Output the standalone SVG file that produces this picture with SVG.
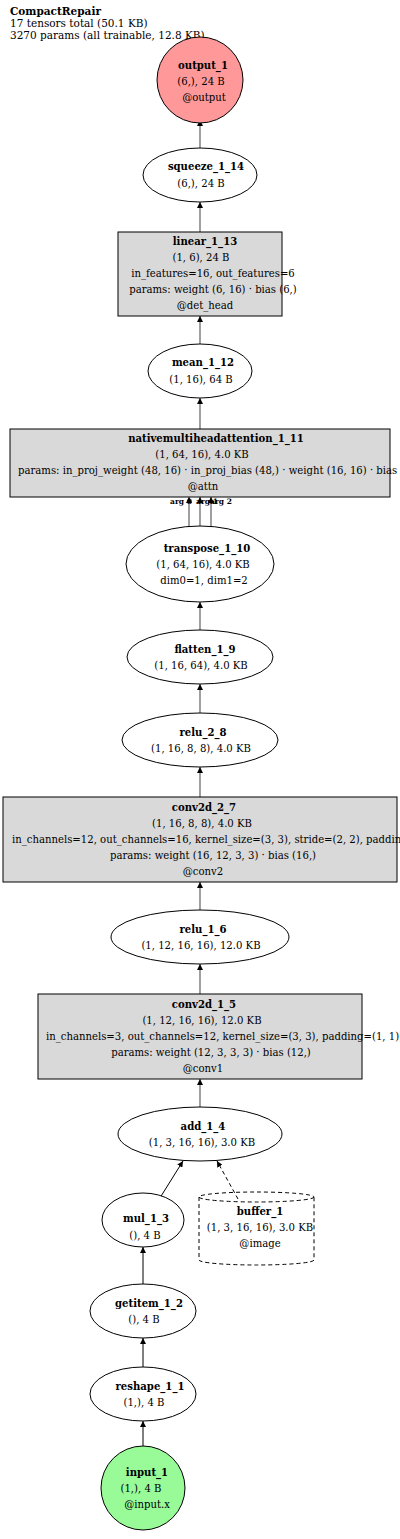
<svg xmlns="http://www.w3.org/2000/svg" width="400" height="1539" viewBox="0 0 400 1539">
<style>
text{font-family:"DejaVu Serif","Liberation Serif",serif;font-size:10.1px;fill:#000}
.c{text-anchor:middle}
.b{font-weight:bold}
.n{fill:#fff;stroke:#000;stroke-width:1}
.r{fill:#d9d9d9;stroke:#000;stroke-width:1}
.e{fill:none;stroke:#888;stroke-width:1.6}
.k{fill:none;stroke:#000;stroke-width:1}
.d{fill:none;stroke:#000;stroke-width:1;stroke-dasharray:4,3}
.a{font-size:7.5px;font-weight:bold}
</style>
<defs>
<marker id="ah" viewBox="0 0 10 10" refX="10" refY="5" markerWidth="6" markerHeight="6" markerUnits="userSpaceOnUse" orient="auto">
<path d="M0,0 L10,5 L0,10 z" fill="#000"/>
</marker>
</defs>
<g id="title">
<text x="10" y="15" class="b" style="font-size:10.5px">CompactRepair</text>
<text x="10" y="27" style="font-size:10.5px">17 tensors total (50.1 KB)</text>
<text x="10" y="39" style="font-size:10.5px">3270 params (all trainable, 12.8 KB)</text>
</g>
<g id="edges">
<line class="e" x1="200" y1="148" x2="200" y2="120" marker-end="url(#ah)"/>
<line class="e" x1="200" y1="232" x2="200" y2="202" marker-end="url(#ah)"/>
<line class="e" x1="200" y1="344" x2="200" y2="316" marker-end="url(#ah)"/>
<line class="e" x1="200" y1="429" x2="200" y2="398" marker-end="url(#ah)"/>
<line class="e" x1="189" y1="528" x2="189" y2="497" marker-end="url(#ah)"/>
<line class="e" x1="200" y1="527" x2="200" y2="497" marker-end="url(#ah)"/>
<line class="e" x1="211" y1="528" x2="211" y2="497" marker-end="url(#ah)"/>
<text x="181" y="504" class="a c">arg 0</text>
<text x="207" y="504" class="a c">arg 1</text>
<text x="221" y="504" class="a c">arg 2</text>
<line class="e" x1="200" y1="631" x2="200" y2="602" marker-end="url(#ah)"/>
<line class="e" x1="200" y1="713" x2="200" y2="684" marker-end="url(#ah)"/>
<line class="e" x1="200" y1="797" x2="200" y2="767" marker-end="url(#ah)"/>
<line class="e" x1="200" y1="910" x2="200" y2="882" marker-end="url(#ah)"/>
<line class="e" x1="200" y1="994" x2="200" y2="964" marker-end="url(#ah)"/>
<line class="e" x1="200" y1="1107" x2="200" y2="1079" marker-end="url(#ah)"/>
<line class="k" x1="158" y1="1201" x2="183" y2="1161" marker-end="url(#ah)"/>
<line class="d" x1="238" y1="1199" x2="217" y2="1161" marker-end="url(#ah)"/>
<line class="k" x1="143" y1="1284" x2="143" y2="1247" marker-end="url(#ah)"/>
<line class="k" x1="143" y1="1367" x2="143" y2="1338" marker-end="url(#ah)"/>
<line class="k" x1="143" y1="1446" x2="143" y2="1421" marker-end="url(#ah)"/>
</g>
<g id="output_1">
<circle cx="200" cy="80" r="43" fill="#ff9999" stroke="#000"/>
<text x="203" y="69" class="c b">output_1</text>
<text x="201" y="85" class="c">(6,), 24 B</text>
<text x="204" y="101" class="c">@output</text>
</g>
<g id="squeeze_1_14">
<ellipse class="n" cx="200" cy="175" rx="57" ry="27"/>
<text x="206" y="170" class="c b">squeeze_1_14</text>
<text x="201" y="187" class="c">(6,), 24 B</text>
</g>
<g id="linear_1_13">
<rect class="r" x="118" y="232" width="164" height="84"/>
<text x="205" y="245" class="c b">linear_1_13</text>
<text x="201" y="261" class="c">(1, 6), 24 B</text>
<text x="213" y="277" class="c">in_features=16, out_features=6</text>
<text x="213" y="293" class="c">params: weight (6, 16) · bias (6,)</text>
<text x="205" y="309" class="c">@det_head</text>
</g>
<g id="mean_1_12">
<ellipse class="n" cx="200" cy="371" rx="52" ry="27"/>
<text x="203" y="366" class="c b">mean_1_12</text>
<text x="201" y="383" class="c">(1, 16), 64 B</text>
</g>
<g id="nativemultiheadattention_1_11">
<rect class="r" x="10" y="429" width="380" height="68"/>
<text x="216" y="442" class="c b">nativemultiheadattention_1_11</text>
<text x="202" y="458" class="c">(1, 64, 16), 4.0 KB</text>
<text x="18" y="474">params: in_proj_weight (48, 16) · in_proj_bias (48,) · weight (16, 16) · bias (16,)</text>
<text x="203" y="490" class="c">@attn</text>
</g>
<g id="transpose_1_10">
<ellipse class="n" cx="200" cy="564" rx="74" ry="38"/>
<text x="207" y="552" class="c b">transpose_1_10</text>
<text x="203" y="568" class="c">(1, 64, 16), 4.0 KB</text>
<text x="204" y="584" class="c">dim0=1, dim1=2</text>
</g>
<g id="flatten_1_9">
<ellipse class="n" cx="200" cy="657" rx="73" ry="27"/>
<text x="205" y="653" class="c b">flatten_1_9</text>
<text x="201" y="669" class="c">(1, 16, 64), 4.0 KB</text>
</g>
<g id="relu_2_8">
<ellipse class="n" cx="200" cy="740" rx="78" ry="27"/>
<text x="203" y="736" class="c b">relu_2_8</text>
<text x="201" y="752" class="c">(1, 16, 8, 8), 4.0 KB</text>
</g>
<g id="conv2d_2_7">
<rect class="r" x="3" y="797" width="394" height="85"/>
<text x="204" y="811" class="c b">conv2d_2_7</text>
<text x="202" y="827" class="c">(1, 16, 8, 8), 4.0 KB</text>
<text x="12" y="843">in_channels=12, out_channels=16, kernel_size=(3, 3), stride=(2, 2), padding=(1, 1)</text>
<text x="213" y="859" class="c">params: weight (16, 12, 3, 3) · bias (16,)</text>
<text x="203" y="875" class="c">@conv2</text>
</g>
<g id="relu_1_6">
<ellipse class="n" cx="200" cy="937" rx="89" ry="27"/>
<text x="203" y="933" class="c b">relu_1_6</text>
<text x="201" y="949" class="c">(1, 12, 16, 16), 12.0 KB</text>
</g>
<g id="conv2d_1_5">
<rect class="r" x="38" y="994" width="324" height="85"/>
<text x="204" y="1008" class="c b">conv2d_1_5</text>
<text x="202" y="1024" class="c">(1, 12, 16, 16), 12.0 KB</text>
<text x="46" y="1040">in_channels=3, out_channels=12, kernel_size=(3, 3), padding=(1, 1))</text>
<text x="211" y="1056" class="c">params: weight (12, 3, 3, 3) · bias (12,)</text>
<text x="203" y="1072" class="c">@conv1</text>
</g>
<g id="add_1_4">
<ellipse class="n" cx="200" cy="1134" rx="82" ry="27"/>
<text x="203" y="1130" class="c b">add_1_4</text>
<text x="202" y="1146" class="c">(1, 3, 16, 16), 3.0 KB</text>
</g>
<g id="mul_1_3">
<ellipse class="n" cx="143" cy="1220" rx="41" ry="27"/>
<text x="146" y="1222" class="c b">mul_1_3</text>
<text x="145" y="1239" class="c">(), 4 B</text>
</g>
<g id="buffer_1">
<path class="d" d="M199,1197 L199,1260 A57.5,5 0 0 0 314,1260 L314,1197" fill="#fff"/>
<ellipse class="d" cx="256.5" cy="1197" rx="57.5" ry="5"/>
<text x="260" y="1215" class="c b">buffer_1</text>
<text x="260" y="1231" class="c">(1, 3, 16, 16), 3.0 KB</text>
<text x="260" y="1247" class="c">@image</text>
</g>
<g id="getitem_1_2">
<ellipse class="n" cx="143" cy="1311" rx="53" ry="27"/>
<text x="149" y="1307" class="c b">getitem_1_2</text>
<text x="144" y="1323" class="c">(), 4 B</text>
</g>
<g id="reshape_1_1">
<ellipse class="n" cx="143" cy="1394" rx="53" ry="27"/>
<text x="150" y="1390" class="c b">reshape_1_1</text>
<text x="144" y="1406" class="c">(1,), 4 B</text>
</g>
<g id="input_1">
<circle cx="143" cy="1488" r="42" fill="#98fb98" stroke="#000"/>
<text x="147" y="1476" class="c b">input_1</text>
<text x="141" y="1492" class="c">(1,), 4 B</text>
<text x="147" y="1508" class="c">@input.x</text>
</g>
</svg>
